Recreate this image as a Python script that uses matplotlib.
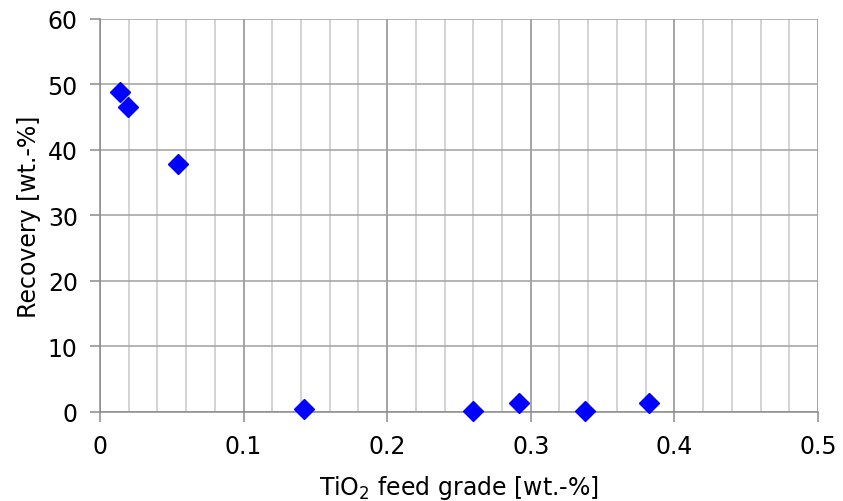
import matplotlib
matplotlib.use("Agg")
import matplotlib.pyplot as plt
from matplotlib.ticker import MultipleLocator

# TiO2 feed grade vs recovery
feed_grade = [0.014, 0.0195, 0.054, 0.142, 0.260, 0.292, 0.338, 0.382]
recovery = [48.8, 46.5, 37.8, 0.4, 0.2, 1.4, 0.2, 1.3]

x_ticks = [0, 0.1, 0.2, 0.3, 0.4, 0.5]
x_tick_labels = ["0", "0.1", "0.2", "0.3", "0.4", "0.5"]
y_ticks = [0, 10, 20, 30, 40, 50, 60]

fig = plt.figure(figsize=(8.43, 5.02), dpi=100)
ax = fig.add_axes([0.1186, 0.1773, 0.8517, 0.7829])

ax.plot(feed_grade, recovery, linestyle="none", marker="D",
        markersize=10, color="#0000ff", zorder=3, clip_on=False)

ax.set_xlim(0, 0.5)
ax.set_ylim(0, 60)
ax.set_xticks(x_ticks)
ax.set_xticklabels(x_tick_labels)
ax.set_yticks(y_ticks)
ax.xaxis.set_minor_locator(MultipleLocator(0.02))

ax.grid(which="major", axis="x", color="#8c8c8c", linewidth=1.1)
ax.grid(which="minor", axis="x", color="#c8c8c8", linewidth=1.1)
ax.grid(which="major", axis="y", color="#a0a0a0", linewidth=1.1)
ax.set_axisbelow(True)

for side in ["top", "right"]:
    ax.spines[side].set_visible(False)
for side in ["left", "bottom"]:
    ax.spines[side].set_color("#8c8c8c")
    ax.spines[side].set_linewidth(1.1)

ax.tick_params(which="major", direction="out", length=7, width=1.1,
               color="#8c8c8c", labelsize=17, pad=9)
ax.tick_params(which="minor", length=0)

ax.set_xlabel("TiO$_2$ feed grade [wt.-%]", fontsize=17, labelpad=11)
ax.set_ylabel("Recovery [wt.-%]", fontsize=17, labelpad=5)

fig.savefig("out.png", dpi=100)
